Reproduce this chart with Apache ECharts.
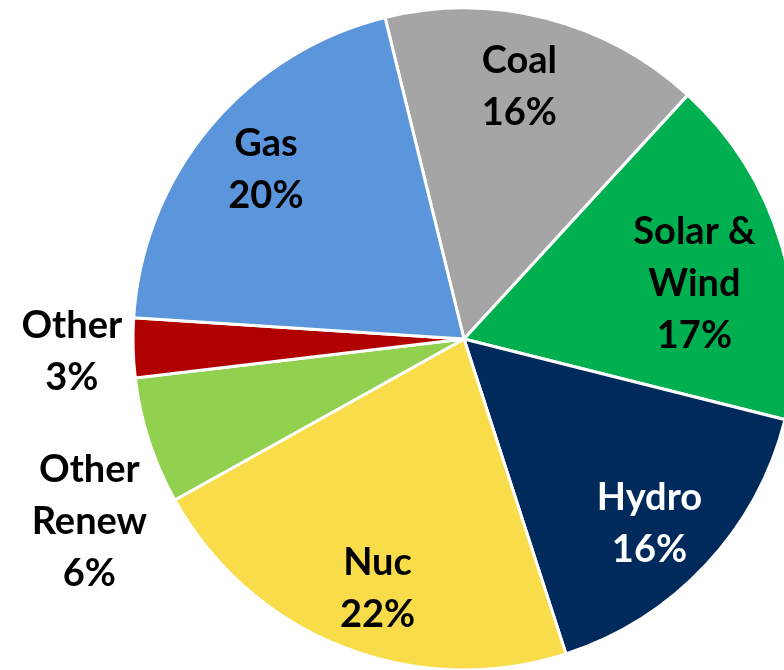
<!DOCTYPE html>
<html>
<head>
<meta charset="utf-8">
<script src="https://cdn.jsdelivr.net/npm/echarts@6/dist/echarts.min.js"></script>
<style>
html,body{margin:0;padding:0;background:#fff;}
#chart{width:784px;height:670px;}
</style>
</head>
<body>
<div id="chart"></div>
<script>
const categories = ['Coal', 'Solar & Wind', 'Hydro', 'Nuc', 'Other Renew', 'Other', 'Gas'];
const labelNames = ['Coal', 'Solar &\nWind', 'Hydro', 'Nuc', 'Other\nRenew', 'Other', 'Gas'];
const shares = [15.65, 17.1, 16.1, 21.9, 6.2, 2.9, 20.15];
const sliceColors = ['#A5A5A5', '#00B050', '#002A5C', '#F9DC4A', '#92D050', '#B00000', '#5B95DC'];
const labelColors = ['#000', '#000', '#fff', '#000', '#000', '#000', '#000'];
const outsideIdx = [4, 5];

const chart = echarts.init(document.getElementById('chart'), null, {renderer: 'canvas'});
const CENTER = [464, 339];
const R = 331;
const START = 103.8;
const FONT = {fontFamily: 'Lato', fontWeight: 'bold', fontSize: 38, lineHeight: 52};

function fmt(p) {
  return labelNames[p.dataIndex] + '\n' + Math.round(p.percent) + '%';
}

const mainData = categories.map((c, i) => ({
  name: c,
  value: shares[i],
  itemStyle: {color: sliceColors[i]},
  label: {show: outsideIdx.indexOf(i) >= 0, color: labelColors[i]}
}));
const overlayData = categories.map((c, i) => ({
  name: c,
  value: shares[i],
  label: {show: outsideIdx.indexOf(i) < 0, color: labelColors[i]}
}));

const outsideShift = {4: [3, 81], 5: [-6, 4]};
const insideShift = {0: [-10, 3], 1: [-22, 20], 2: [-7, 5], 3: [10, 5], 6: [4, 0]};

chart.setOption({
  animation: false,
  series: [
    {
      type: 'pie',
      center: CENTER,
      radius: [0, R],
      startAngle: START,
      clockwise: true,
      avoidLabelOverlap: false,
      itemStyle: {borderColor: '#fff', borderWidth: 3},
      emphasis: {disabled: true},
      label: Object.assign({
        position: 'outside',
        formatter: fmt,
        distanceToLabelLine: 5
      }, FONT),
      labelLine: {show: false, length: 0, length2: 0},
      labelLayout: function (p) {
        const s = outsideShift[p.dataIndex];
        if (!s) return {};
        const r = p.labelRect;
        return {
          x: r.x + r.width / 2 + s[0],
          y: r.y + r.height / 2 + s[1],
          align: 'center',
          verticalAlign: 'middle'
        };
      },
      data: mainData
    },
    {
      type: 'pie',
      center: CENTER,
      radius: [190, R],
      startAngle: START,
      clockwise: true,
      silent: true,
      avoidLabelOverlap: false,
      itemStyle: {color: 'rgba(0,0,0,0)', borderWidth: 0},
      emphasis: {disabled: true},
      label: Object.assign({
        position: 'inside',
        formatter: fmt
      }, FONT),
      labelLine: {show: false},
      labelLayout: function (p) {
        const s = insideShift[p.dataIndex];
        if (!s) return {};
        return {dx: s[0], dy: s[1]};
      },
      data: overlayData
    }
  ]
});
</script>
</body>
</html>
